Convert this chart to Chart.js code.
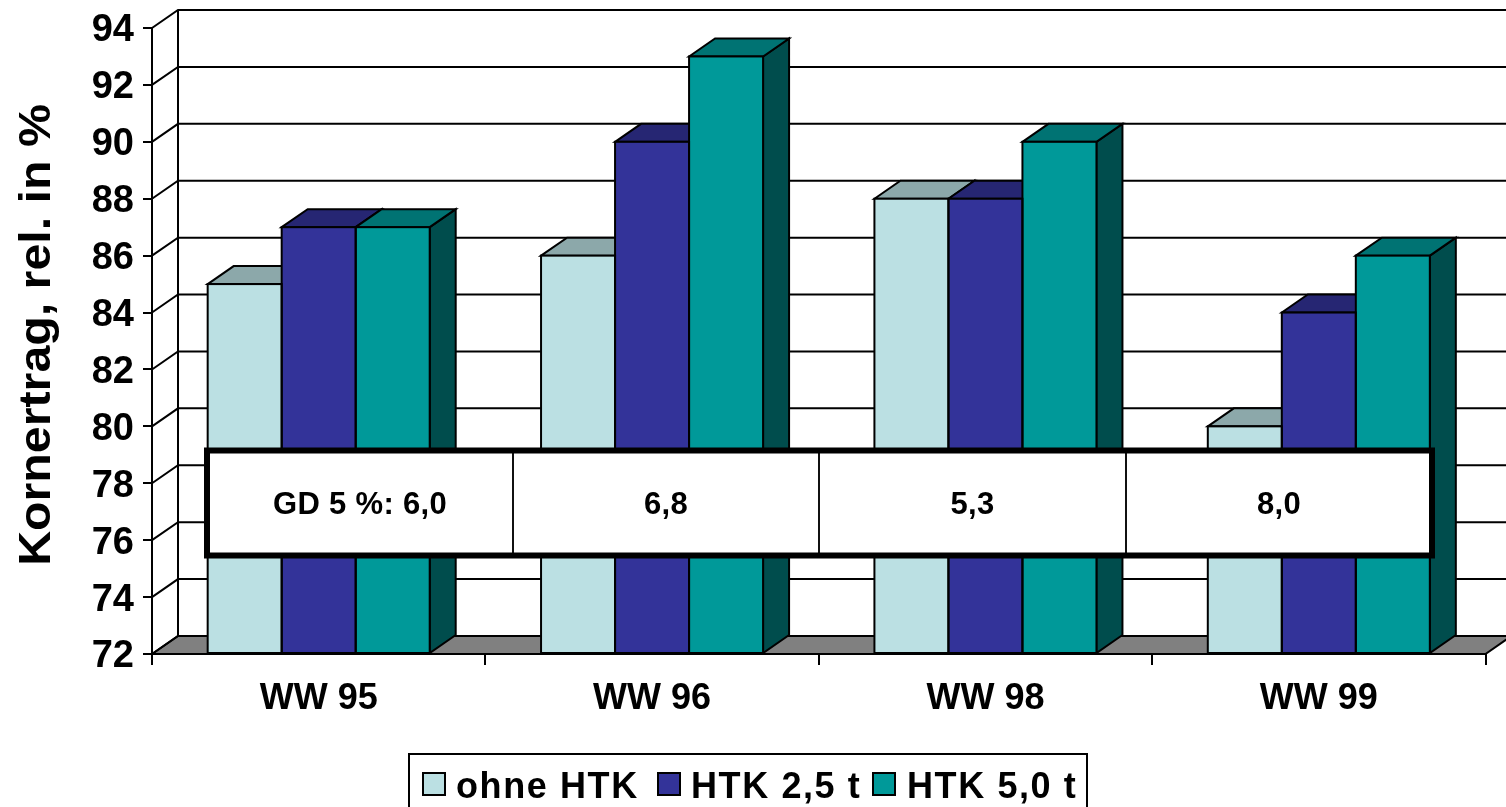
<!DOCTYPE html>
<html><head><meta charset="utf-8">
<style>html,body{margin:0;padding:0;background:#fff;overflow:hidden}canvas{display:block}</style>
<script src="https://cdn.jsdelivr.net/npm/chart.js@4"></script>
</head><body><canvas id="c" width="1506" height="807"></canvas>
<script>
const categories = ['WW 95','WW 96','WW 98','WW 99'];
const ohneHTK = [85,86,88,80];
const htk25 = [87,90,88,84];
const htk50 = [87,93,90,86];
const seriesNames = ['ohne HTK','HTK 2,5 t','HTK 5,0 t'];
const gdLabels = ['GD 5 %: 6,0','6,8','5,3','8,0'];
const yTitle = 'Kornertrag, rel. in %';
const FONT = '"Liberation Sans", Arial, sans-serif';
const front = ['#BBE0E3','#333399','#009999'];
const topCol = ['#8CA8AA','#262673','#007373'];
const sideCol = ['#5E7072','#1A1A4D','#004D4D'];
const DX = 26, DY = 18;

function poly(ctx, pts, fill){
  ctx.beginPath();
  pts.forEach((p,i)=> i?ctx.lineTo(p[0],p[1]):ctx.moveTo(p[0],p[1]));
  ctx.closePath();
  if(fill){ctx.fillStyle=fill;ctx.fill();}
  ctx.lineWidth=2;ctx.strokeStyle='#000';ctx.stroke();
}
const threeD = {
  id:'threeD',
  beforeDatasetsDraw(chart){
    const ctx=chart.ctx, x=chart.scales.x, y=chart.scales.y, a=chart.chartArea;
    ctx.save();
    const base=y.getPixelForValue(y.min);
    poly(ctx,[[a.left,base],[a.left+DX,base-DY],[a.right+DX,base-DY],[a.right,base]],'#808080');
    ctx.lineWidth=2;ctx.strokeStyle='#000';
    y.ticks.forEach(t=>{
      const p=y.getPixelForValue(t.value);
      ctx.beginPath();ctx.moveTo(a.left,p);ctx.lineTo(a.left+DX,p-DY);ctx.lineTo(a.right+DX,p-DY);ctx.stroke();
    });
    ctx.beginPath();ctx.moveTo(a.left+DX,base-DY);ctx.lineTo(a.left+DX,a.top-DY);ctx.stroke();
    categories.forEach((_,i)=>{
      chart.data.datasets.forEach((ds,d)=>{
        const b=chart.getDatasetMeta(d).data[i];
        const l=b.x-b.width/2,r=b.x+b.width/2,t=b.y,bt=b.base;
        poly(ctx,[[r,t],[r+DX,t-DY],[r+DX,bt-DY],[r,bt]],sideCol[d]);
        poly(ctx,[[l,t],[l+DX,t-DY],[r+DX,t-DY],[r,t]],topCol[d]);
      });
    });
    ctx.restore();
  },
  afterDatasetsDraw(chart){
    const ctx=chart.ctx;
    ctx.save();ctx.lineWidth=2;ctx.strokeStyle='#000';
    categories.forEach((_,i)=>{
      chart.data.datasets.forEach((ds,d)=>{
        const b=chart.getDatasetMeta(d).data[i];
        ctx.strokeRect(b.x-b.width/2,b.y,b.width,b.base-b.y);
      });
    });
    ctx.restore();
  },
  afterDraw(chart){
    const ctx=chart.ctx;
    ctx.save();
    const L=207,R=1432,T=450.5,B=555.5,div=[513,819,1126];
    ctx.fillStyle='#fff';ctx.fillRect(L,T,R-L,B-T);
    ctx.strokeStyle='#111';ctx.lineWidth=2;
    div.forEach(v=>{ctx.beginPath();ctx.moveTo(v,T);ctx.lineTo(v,B);ctx.stroke();});
    ctx.strokeStyle='#000';ctx.lineWidth=6;ctx.strokeRect(L,T,R-L,B-T);
    const edges=[L,...div,R];
    ctx.fillStyle='#000';ctx.textAlign='center';ctx.textBaseline='alphabetic';
    ctx.font='bold 31px '+FONT;ctx.letterSpacing='0.3px';
    gdLabels.forEach((s,i)=>ctx.fillText(s,(edges[i]+edges[i+1])/2,514));
    ctx.letterSpacing='0px';
    ctx.save();ctx.translate(50,335);ctx.rotate(-Math.PI/2);ctx.scale(1.098,1);
    ctx.font='bold 44px '+FONT;ctx.fillText(yTitle,0,0);ctx.restore();
    ctx.strokeStyle='#000';ctx.lineWidth=2;
    ctx.strokeRect(409,754,678,60);
    const mark=[423,658,873], text=[456,691,907];
    ctx.textAlign='left';ctx.font='bold 36px '+FONT;ctx.letterSpacing='1.6px';
    seriesNames.forEach((s,i)=>{
      ctx.fillStyle=front[i];ctx.fillRect(mark[i],773,22,22);
      ctx.strokeRect(mark[i],773,22,22);
      ctx.fillStyle='#000';ctx.fillText(s,text[i],798);
    });
    ctx.restore();
  }
};
new Chart(document.getElementById('c'),{
  type:'bar',
  data:{labels:categories,datasets:[
    {label:seriesNames[0],data:ohneHTK,backgroundColor:front[0]},
    {label:seriesNames[1],data:htk25,backgroundColor:front[1]},
    {label:seriesNames[2],data:htk50,backgroundColor:front[2]}
  ].map(d=>Object.assign(d,{base:72,borderWidth:0,categoryPercentage:0.666,barPercentage:1,clip:false}))},
  plugins:[threeD],
  options:{
    responsive:false,animation:false,
    layout:{autoPadding:false,padding:{left:0,right:20.5,top:28,bottom:0}},
    plugins:{legend:{display:false},tooltip:{enabled:false}},
    scales:{
      x:{
        afterFit(s){s.height=153;},
        grid:{offset:true,drawOnChartArea:false,tickLength:11,color:'#000',lineWidth:2},
        border:{color:'#000',width:2},
        ticks:{color:'#000',font:{family:FONT,size:36,weight:'bold'},padding:12,maxRotation:0}
      },
      y:{
        min:72,max:94,
        afterFit(s){
          s.width=152;s.paddingTop=0;s.paddingBottom=0;
          if(!s._shifted){
            s._shifted=true;
            const orig=s._computeLabelItems;
            s._computeLabelItems=function(ca){
              const items=orig.call(this,ca);
              items.forEach(it=>{it.options.translation=[it.options.translation[0],it.options.translation[1]+3];});
              return items;
            };
          }
        },
        grid:{drawOnChartArea:false,tickLength:9,color:'#000',lineWidth:2},
        border:{color:'#000',width:2},
        ticks:{stepSize:2,color:'#000',font:{family:FONT,size:38,weight:'bold'},padding:9}
      }
    }
  }
});
</script></body></html>
